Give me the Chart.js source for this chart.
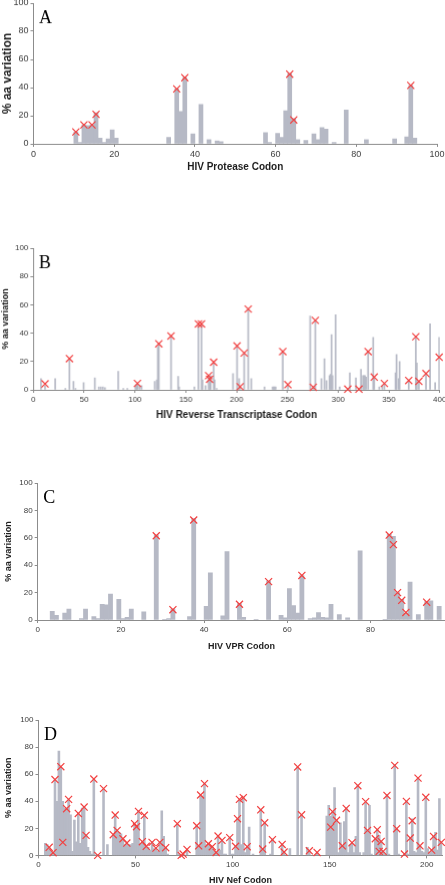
<!DOCTYPE html>
<html>
<head>
<meta charset="utf-8">
<script src="https://cdn.jsdelivr.net/npm/chart.js@4.4.1/dist/chart.umd.min.js"></script>
<style>
  html, body { margin: 0; padding: 0; background: #fff; }
  body { position: relative; width: 445px; height: 885px; overflow: hidden; }
  .panel { position: absolute; left: 0; }
</style>
</head>
<body>
<script>
const yTicks = [0, 20, 40, 60, 80, 100];

// A: protease
const proteaseTicks = [0, 20, 40, 60, 80, 100];
const proteaseCodons = [10, 11, 12, 13, 14, 15, 16, 17, 18, 19, 20, 33, 35, 36, 37, 39, 41, 43, 45, 46,
  57, 58, 60, 61, 62, 63, 64, 65, 67, 69, 70, 71, 72, 74, 77, 82, 89, 92, 93, 94];
const proteaseVariation = [8.5, 1, 13.5, 13, 13.5, 22, 4, 1, 3.5, 10, 4, 4.5, 39, 23, 47, 7, 28, 3, 2, 1.5,
  8, 1, 7.5, 4.5, 23.5, 50, 18, 3, 2.5, 7, 3, 11.5, 10.5, 1, 24, 3, 3.5, 5, 41.5, 4];
const proteaseMarkCodons = [10, 12, 14, 15, 35, 37, 63, 64, 93];
const proteaseMarkVariation = [8.5, 13.5, 13.5, 21, 39, 47, 49.5, 17, 41.5];

// B: reverse transcriptase
const rtTicks = [0, 50, 100, 150, 200, 250, 300, 350, 400];
const rtCodons = [7, 11, 21, 31, 35, 39, 41, 49, 60, 64, 66, 68, 70, 83, 88, 92, 100, 101, 102, 104, 106,
  119, 121, 122, 123, 135, 142, 143, 158, 162, 165, 166, 169, 172, 173, 174, 177, 178, 180, 196, 200,
  202, 203, 207, 211, 214, 227, 235, 236, 237, 238, 245, 250, 272, 275, 277, 283, 286, 288, 291, 292,
  293, 294, 297, 301, 309, 311, 317, 320, 322, 324, 325, 326, 327, 329, 334, 335, 340, 343, 345, 356,
  357, 359, 360, 369, 376, 377, 379, 386, 390, 395, 399];
const rtVariation = [8, 3, 8, 1, 22, 6, 1, 5, 8.5, 2, 2, 2, 1.5, 13, 1, 1, 3, 4, 4.5, 3, 3,
  6, 7, 30, 33, 38, 9.5, 2, 2, 46, 46, 7, 3, 10, 8, 10, 19.5, 7, 1, 11.5, 31,
  8, 2, 26, 57, 8, 2, 2, 2, 2, 2, 27, 4, 52, 2, 49, 8, 22, 6.5, 10, 11,
  39, 10, 53, 2, 0.5, 12, 8.5, 0.5, 14.5, 10, 10, 10, 9, 27, 37, 9, 2, 3, 4.5, 12,
  25, 8, 20, 6.6, 37.5, 19, 6, 11.5, 46.5, 5, 37];
const rtMarkCodons = [11, 35, 102, 123, 135, 162, 165, 172, 173, 177, 200, 203, 207, 211, 245, 250,
  275, 277, 309, 320, 329, 335, 345, 369, 376, 379, 386, 399];
const rtMarkVariation = [4.2, 22, 4.5, 32.5, 38, 46.5, 46.5, 10, 7.5, 19.5, 31, 2.2, 26, 57, 27, 3.7,
  1.8, 49, 0.5, 0.5, 27, 9, 4.5, 6.6, 37.5, 6, 11.5, 23];

// C: VPR
const vprTicks = [0, 20, 40, 60, 80];
const vprCodons = [3, 4, 6, 7, 10, 11, 13, 14, 15, 16, 17, 19, 20, 21, 22, 25, 28, 30, 31, 32, 36, 37,
  40, 41, 44, 45, 48, 49, 52, 55, 58, 59, 60, 61, 62, 63, 65, 66, 67, 68, 69, 70, 72, 74, 77, 83,
  84, 85, 86, 87, 88, 89, 91, 93, 94, 96];
const vprVariation = [6.3, 3.5, 5, 8, 1, 8, 2.5, 1, 11.5, 11, 19, 15, 1, 2, 8, 6, 62, 0.5, 1, 8, 2.5, 74,
  10, 34.5, 3, 50, 12, 2, 0.5, 28.5, 3.5, 1.5, 23, 10.5, 5, 32.5, 1, 1.5, 5.5, 2, 1.5, 11.5, 4, 1.5, 50.5, 0.5,
  62.5, 61, 20, 15, 5, 27.7, 4, 13.5, 14, 10];
const vprMarkCodons = [28, 32, 37, 48, 55, 63, 84, 85, 86, 87, 88, 93];
const vprMarkVariation = [61.5, 7.5, 73, 11.5, 28, 32.5, 62, 55, 20, 14.4, 5.5, 13];

// D: Nef
const nefTicks = [0, 50, 100, 150, 200];
const nefCodons = [3, 4, 5, 6, 7, 8, 9, 10, 11, 12, 13, 14, 15, 16, 17, 18, 19, 20, 21, 22, 23, 24, 25,
  26, 27, 28, 29, 30, 33, 35, 38, 39, 40, 41, 42, 43, 44, 45, 46, 47, 48, 49, 50, 51, 52, 53, 54, 55,
  56, 57, 58, 59, 60, 61, 62, 63, 64, 65, 66, 71, 72, 74, 76, 81, 82, 83, 84, 85, 86, 87, 88, 89, 90,
  91, 92, 93, 94, 95, 96, 98, 99, 100, 101, 102, 103, 104, 105, 106, 107, 108, 110, 114, 115, 116, 119,
  120, 125, 126, 129, 133, 135, 138, 139, 143, 148, 149, 150, 151, 152, 153, 154, 155, 156, 157, 158,
  159, 160, 161, 162, 163, 164, 165, 167, 168, 169, 170, 171, 173, 174, 175, 176, 177, 178, 179, 180,
  183, 184, 185, 188, 189, 190, 191, 192, 193, 194, 195, 196, 197, 198, 199, 200, 201, 202, 203, 204,
  205, 206, 207];
const nefVariation = [9, 8, 6, 3, 2, 56, 40, 77, 65, 40, 35, 35, 41, 30, 3, 26, 10, 31, 9, 35, 36, 15, 6,
  3, 1, 56, 0.5, 0.5, 49, 8, 15, 30, 18, 17, 16, 12, 8, 9, 8, 8, 9, 23, 22, 33, 9, 10, 30, 7,
  6, 4, 10, 5, 5, 3, 10, 33, 14, 6, 1, 23, 1, 1, 4, 22, 7, 44, 44, 53, 8, 9, 7, 6, 3,
  2, 14, 4, 11, 1, 1, 13, 1, 1, 7, 27, 41, 8, 43, 2, 6, 21, 1, 34, 5, 24, 1,
  12, 8, 3, 5, 65, 30, 6, 3, 2, 29, 37, 29, 32, 50, 26, 2, 24, 7, 25, 35,
  2, 8, 9, 2, 14, 52, 2, 2, 39, 18, 37, 1, 12, 19, 15, 10, 3, 1, 45, 1,
  67, 20, 1, 1, 40, 1, 13, 27, 3, 2, 57, 7, 3, 2, 43, 5, 2, 4, 14, 17,
  4, 42, 10];
const nefMarkCodons = [5, 7, 8, 11, 12, 14, 15, 20, 23, 24, 28, 30, 33, 38, 39, 40, 43, 45, 49, 50, 51,
  53, 54, 55, 58, 60, 62, 65, 71, 73, 74, 76, 81, 82, 83, 85, 87, 89, 91, 92, 94, 98, 101, 102, 103,
  105, 107, 114, 115, 116, 120, 125, 126, 133, 135, 139, 143, 150, 151, 153, 156, 158, 161, 164, 168,
  169, 173, 174, 175, 176, 177, 179, 183, 184, 188, 189, 191, 192, 195, 196, 199, 202, 203, 207];
const nefMarkVariation = [6, 2, 56, 65.5, 9.6, 34.5, 41.4, 31, 35.7, 14.8, 56.4, 0, 49.3, 15.3, 29.8, 18.5,
  12.3, 9.1, 23.4, 21.2, 32.5, 10.1, 29.6, 6.7, 9.6, 5.4, 9.6, 5.7, 23.4, 0, 1, 4.4, 21.9, 7.1, 44.6,
  53, 8.6, 6.4, 2.2, 14.3, 11.1, 13.1, 6.7, 27.1, 41.4, 42.6, 6.4, 33.7, 4.7, 24.1, 11.6, 8.1, 2.5,
  65.3, 30, 3.4, 2.2, 20.9, 32.3, 25.9, 7.1, 34.7, 9.4, 51.5, 39.7, 18.5, 12.3, 19, 3, 10.3, 3, 44.3,
  66.5, 19.7, 1, 39.9, 12.8, 25.6, 57.1, 7.1, 42.9, 3.9, 14, 9.6];

const palette = {
  bar: "#b6b9c5",
  mark: "#f24040",
  axis: "#8c8c8c",
  text: "#3c3c3c",
  title: "#1e1e1e",
  letter: "#000000",
};

const sansFamily = '"Liberation Sans", Arial, sans-serif';
const padTop = 12;
const padRight = 14;

const panels = [
  {
    letter: "A", title: "HIV Protease Codon", xMax: 100, xTicks: proteaseTicks,
    codons: proteaseCodons, values: proteaseVariation,
    markCodons: proteaseMarkCodons, markValues: proteaseMarkVariation,
    box: { left: 33.5, right: 437, top: 3.3, bottom: 143.3, axisH: 29.7 },
    tickSize: 9, xTitleSize: 10, yTitleSize: 12, yTitlePad: 0,
  },
  {
    letter: "B", title: "HIV Reverse Transcriptase Codon", xMax: 400, xTicks: rtTicks,
    codons: rtCodons, values: rtVariation,
    markCodons: rtMarkCodons, markValues: rtMarkVariation,
    box: { left: 33.3, right: 438.7, top: 248.3, bottom: 389.3, axisH: 31.7 },
    tickSize: 8, xTitleSize: 10, yTitleSize: 9, yTitlePad: 0,
  },
  {
    letter: "C", title: "HIV VPR Codon", xMax: 98, xTicks: vprTicks,
    codons: vprCodons, values: vprVariation,
    markCodons: vprMarkCodons, markValues: vprMarkVariation,
    box: { left: 37.7, right: 445.4, top: 482.7, bottom: 619.7, axisH: 31.7 },
    tickSize: 8, xTitleSize: 9, yTitleSize: 9, yTitlePad: 3.4,
  },
  {
    letter: "D", title: "HIV Nef Codon", xMax: 208, xTicks: nefTicks,
    codons: nefCodons, values: nefVariation,
    markCodons: nefMarkCodons, markValues: nefMarkVariation,
    box: { left: 38.5, right: 442.3, top: 720.3, bottom: 855.7, axisH: 30.7 },
    tickSize: 8, xTitleSize: 9, yTitleSize: 9, yTitlePad: 2.9,
  },
];

const panelLetter = {
  id: "panelLetter",
  afterDraw(chart, args, opts) {
    const { ctx, chartArea } = chart;
    ctx.save();
    ctx.font = '18px "Liberation Serif", "Times New Roman", serif';
    ctx.fillStyle = palette.letter;
    ctx.textBaseline = "alphabetic";
    ctx.fillText(opts.text, chartArea.left + 5.5, chartArea.top + 20);
    ctx.restore();
  },
};

function axisBase(panel) {
  return {
    grid: {
      display: true,
      drawOnChartArea: false,
      drawTicks: true,
      tickLength: 3,
      color: palette.axis,
      offset: false,
    },
    border: { display: true, color: palette.axis, width: 1 },
    ticks: {
      font: { family: sansFamily, size: panel.tickSize },
      color: palette.text,
      padding: 2,
      maxRotation: 0,
      autoSkip: false,
    },
  };
}

function buildPanel(panel) {
  const box = panel.box;
  const wrap = document.createElement("div");
  wrap.className = "panel";
  wrap.style.top = `${box.top - padTop}px`;
  wrap.style.width = `${box.right + padRight}px`;
  wrap.style.height = `${padTop + box.bottom - box.top + box.axisH}px`;

  const canvas = document.createElement("canvas");
  wrap.append(canvas);
  document.body.append(wrap);

  const bars = panel.codons.map((codon, i) => ({ x: codon + 0.5, y: panel.values[i] }));
  const marks = panel.markCodons.map((codon, i) => ({ x: codon + 0.5, y: panel.markValues[i] }));

  const xAxis = axisBase(panel);
  const yAxis = axisBase(panel);

  return new Chart(canvas, {
    type: "bar",
    data: {
      datasets: [
        {
          type: "scatter",
          data: marks,
          pointStyle: "crossRot",
          pointRadius: 5,
          pointBorderWidth: 1.2,
          pointBorderColor: palette.mark,
          pointBackgroundColor: palette.mark,
          clip: false,
          order: 0,
        },
        {
          type: "bar",
          data: bars,
          backgroundColor: palette.bar,
          borderWidth: 0,
          barPercentage: 1,
          categoryPercentage: 1,
          order: 1,
        },
      ],
    },
    options: {
      animation: false,
      responsive: true,
      maintainAspectRatio: false,
      layout: { padding: { top: padTop, right: padRight, bottom: 0, left: 0 } },
      plugins: {
        legend: { display: false },
        tooltip: { enabled: false },
        panelLetter: { text: panel.letter },
      },
      scales: {
        x: {
          ...xAxis,
          type: "linear",
          min: 0,
          max: panel.xMax,
          offset: false,
          afterFit: (scale) => { scale.height = box.axisH; },
          afterBuildTicks: (scale) => { scale.ticks = panel.xTicks.map((value) => ({ value })); },
          title: {
            display: true,
            text: panel.title,
            color: palette.title,
            font: { family: sansFamily, size: panel.xTitleSize, weight: "bold" },
            padding: 0,
          },
        },
        y: {
          ...yAxis,
          type: "linear",
          min: 0,
          max: 100,
          afterFit: (scale) => { scale.width = box.left; },
          afterBuildTicks: (scale) => { scale.ticks = yTicks.map((value) => ({ value })); },
          title: {
            display: true,
            text: "% aa variation",
            color: palette.title,
            font: { family: sansFamily, size: panel.yTitleSize, weight: "bold" },
            padding: { top: panel.yTitlePad, bottom: 0 },
          },
        },
      },
    },
    plugins: [panelLetter],
  });
}

panels.forEach(buildPanel);
</script>
</body>
</html>
